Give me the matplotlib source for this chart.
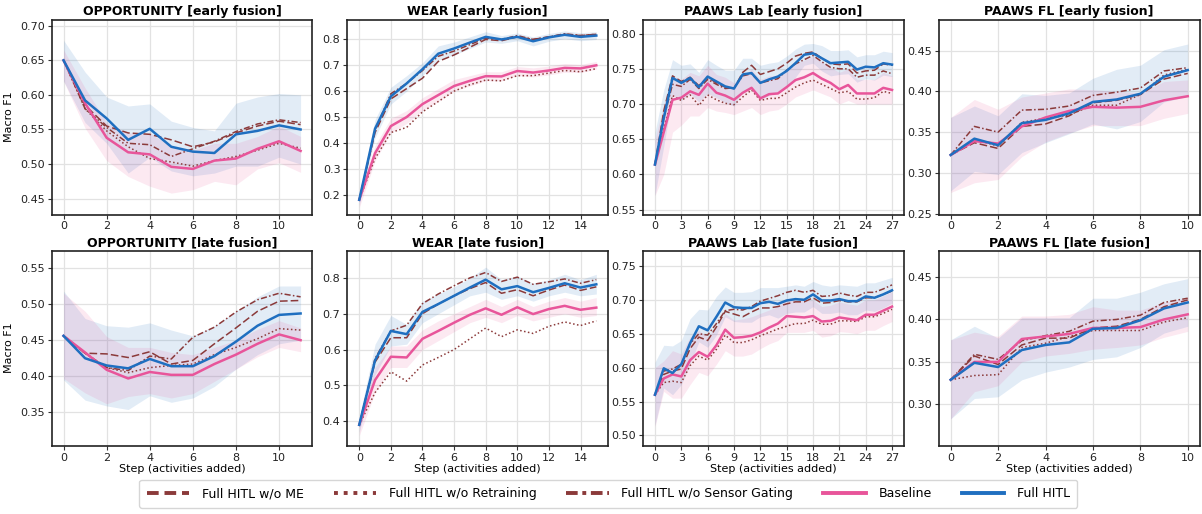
import matplotlib
matplotlib.use("Agg")
import matplotlib.pyplot as plt
from matplotlib.lines import Line2D
import numpy as np

# ---------------- data ----------------
titles = ["OPPORTUNITY [early fusion]", "WEAR [early fusion]", "PAAWS Lab [early fusion]", "PAAWS FL [early fusion]",
          "OPPORTUNITY [late fusion]", "WEAR [late fusion]", "PAAWS Lab [late fusion]", "PAAWS FL [late fusion]"]
legend_labels = ["Full HITL w/o ME", "Full HITL w/o Retraining", "Full HITL w/o Sensor Gating", "Baseline", "Full HITL"]

# OPPORTUNITY early
opp_e_hitl = [0.650, 0.592, 0.566, 0.535, 0.551, 0.525, 0.518, 0.516, 0.543, 0.548, 0.556, 0.550]
opp_e_hitl_hi = [0.679, 0.633, 0.597, 0.584, 0.587, 0.562, 0.553, 0.548, 0.588, 0.597, 0.602, 0.600]
opp_e_hitl_lo = [0.620, 0.560, 0.530, 0.487, 0.510, 0.490, 0.483, 0.487, 0.497, 0.497, 0.510, 0.500]
opp_e_base = [0.650, 0.588, 0.538, 0.517, 0.514, 0.496, 0.493, 0.505, 0.508, 0.522, 0.533, 0.519]
opp_e_base_hi = [0.665, 0.610, 0.560, 0.545, 0.545, 0.525, 0.520, 0.530, 0.530, 0.540, 0.555, 0.540]
opp_e_base_lo = [0.620, 0.552, 0.505, 0.482, 0.468, 0.458, 0.463, 0.475, 0.470, 0.493, 0.502, 0.488]
opp_e_nome = [0.650, 0.585, 0.555, 0.545, 0.543, 0.535, 0.525, 0.532, 0.545, 0.555, 0.562, 0.557]
opp_e_noret = [0.650, 0.580, 0.548, 0.525, 0.508, 0.503, 0.497, 0.505, 0.511, 0.520, 0.530, 0.523]
opp_e_nosg = [0.650, 0.580, 0.553, 0.530, 0.528, 0.511, 0.522, 0.533, 0.547, 0.558, 0.564, 0.560]

# WEAR early
wear_e_hitl = [0.180, 0.455, 0.580, 0.630, 0.685, 0.745, 0.765, 0.788, 0.810, 0.800, 0.810, 0.793, 0.808, 0.818, 0.810, 0.815]
wear_e_hitl_hi = [0.200, 0.490, 0.615, 0.660, 0.710, 0.775, 0.790, 0.810, 0.830, 0.815, 0.825, 0.810, 0.823, 0.833, 0.826, 0.830]
wear_e_hitl_lo = [0.160, 0.420, 0.550, 0.600, 0.660, 0.720, 0.740, 0.765, 0.790, 0.785, 0.795, 0.775, 0.793, 0.803, 0.795, 0.800]
wear_e_base = [0.180, 0.360, 0.465, 0.500, 0.550, 0.585, 0.620, 0.640, 0.658, 0.657, 0.678, 0.672, 0.680, 0.690, 0.688, 0.700]
wear_e_base_hi = [0.200, 0.390, 0.495, 0.525, 0.575, 0.610, 0.645, 0.660, 0.675, 0.675, 0.695, 0.690, 0.697, 0.707, 0.703, 0.715]
wear_e_base_lo = [0.150, 0.330, 0.440, 0.475, 0.525, 0.560, 0.600, 0.620, 0.640, 0.640, 0.660, 0.655, 0.663, 0.673, 0.672, 0.685]
wear_e_nome = [0.180, 0.440, 0.570, 0.610, 0.650, 0.715, 0.740, 0.770, 0.800, 0.795, 0.810, 0.800, 0.810, 0.820, 0.815, 0.820]
wear_e_noret = [0.180, 0.340, 0.440, 0.460, 0.520, 0.560, 0.600, 0.625, 0.643, 0.640, 0.660, 0.660, 0.670, 0.680, 0.675, 0.687]
wear_e_nosg = [0.180, 0.450, 0.590, 0.630, 0.680, 0.735, 0.755, 0.780, 0.805, 0.800, 0.815, 0.800, 0.810, 0.822, 0.815, 0.820]

# PAAWS Lab early
lab_e_hitl = [0.614, 0.680, 0.737, 0.730, 0.737, 0.724, 0.739, 0.732, 0.725, 0.722, 0.742, 0.744, 0.730, 0.735,
              0.739, 0.747, 0.758, 0.770, 0.772, 0.765, 0.758, 0.759, 0.760, 0.749, 0.753, 0.752, 0.758, 0.756]
lab_e_hitl_hi = [0.660, 0.720, 0.763, 0.755, 0.757, 0.745, 0.763, 0.755, 0.748, 0.748, 0.765, 0.765, 0.755, 0.758,
                 0.760, 0.768, 0.778, 0.785, 0.786, 0.783, 0.776, 0.776, 0.777, 0.767, 0.770, 0.770, 0.775, 0.773]
lab_e_hitl_lo = [0.570, 0.640, 0.712, 0.705, 0.715, 0.703, 0.715, 0.709, 0.702, 0.697, 0.718, 0.722, 0.706, 0.712,
                 0.718, 0.726, 0.738, 0.755, 0.758, 0.747, 0.740, 0.742, 0.743, 0.731, 0.736, 0.734, 0.741, 0.739]
lab_e_base = [0.614, 0.660, 0.706, 0.709, 0.718, 0.713, 0.729, 0.716, 0.712, 0.706, 0.716, 0.723, 0.708, 0.714,
              0.715, 0.724, 0.734, 0.738, 0.744, 0.736, 0.730, 0.721, 0.727, 0.715, 0.715, 0.715, 0.723, 0.720]
lab_e_base_hi = [0.650, 0.700, 0.740, 0.735, 0.745, 0.740, 0.755, 0.742, 0.738, 0.730, 0.740, 0.750, 0.735, 0.740,
                 0.740, 0.748, 0.758, 0.762, 0.768, 0.760, 0.752, 0.745, 0.750, 0.735, 0.735, 0.735, 0.745, 0.740]
lab_e_base_lo = [0.570, 0.600, 0.660, 0.670, 0.683, 0.683, 0.695, 0.690, 0.688, 0.685, 0.690, 0.695, 0.685, 0.690,
                 0.692, 0.700, 0.710, 0.715, 0.720, 0.715, 0.710, 0.700, 0.705, 0.700, 0.700, 0.700, 0.700, 0.700]
lab_e_nome = [0.614, 0.690, 0.740, 0.732, 0.738, 0.726, 0.738, 0.730, 0.724, 0.722, 0.745, 0.755, 0.742, 0.746,
              0.750, 0.758, 0.768, 0.772, 0.774, 0.765, 0.757, 0.756, 0.757, 0.744, 0.747, 0.748, 0.757, 0.755]
lab_e_noret = [0.614, 0.665, 0.712, 0.705, 0.713, 0.698, 0.713, 0.706, 0.701, 0.699, 0.710, 0.720, 0.705, 0.708,
               0.708, 0.716, 0.724, 0.730, 0.734, 0.728, 0.722, 0.716, 0.718, 0.707, 0.707, 0.709, 0.718, 0.715]
lab_e_nosg = [0.614, 0.680, 0.728, 0.725, 0.735, 0.722, 0.735, 0.728, 0.722, 0.723, 0.740, 0.743, 0.730, 0.733,
              0.736, 0.748, 0.757, 0.763, 0.769, 0.760, 0.752, 0.750, 0.750, 0.738, 0.741, 0.741, 0.747, 0.743]

# PAAWS FL early
fl_e_hitl = [0.322, 0.342, 0.334, 0.361, 0.365, 0.373, 0.387, 0.390, 0.397, 0.418, 0.426]
fl_e_hitl_hi = [0.368, 0.382, 0.370, 0.397, 0.395, 0.398, 0.416, 0.427, 0.432, 0.451, 0.458]
fl_e_hitl_lo = [0.278, 0.302, 0.298, 0.325, 0.337, 0.348, 0.360, 0.354, 0.363, 0.387, 0.394]
fl_e_base = [0.322, 0.339, 0.336, 0.357, 0.368, 0.376, 0.381, 0.380, 0.381, 0.389, 0.394]
fl_e_base_hi = [0.368, 0.390, 0.378, 0.393, 0.398, 0.403, 0.402, 0.400, 0.398, 0.412, 0.414]
fl_e_base_lo = [0.276, 0.288, 0.292, 0.320, 0.338, 0.349, 0.358, 0.358, 0.358, 0.367, 0.373]
fl_e_nome = [0.322, 0.337, 0.330, 0.357, 0.360, 0.370, 0.386, 0.389, 0.396, 0.415, 0.422]
fl_e_noret = [0.322, 0.341, 0.333, 0.362, 0.367, 0.371, 0.383, 0.383, 0.396, 0.420, 0.427]
fl_e_nosg = [0.322, 0.357, 0.350, 0.377, 0.378, 0.382, 0.395, 0.399, 0.404, 0.425, 0.429]

# OPPORTUNITY late
opp_l_hitl = [0.456, 0.425, 0.415, 0.411, 0.424, 0.414, 0.414, 0.428, 0.448, 0.470, 0.485, 0.487]
opp_l_hitl_hi = [0.518, 0.480, 0.470, 0.468, 0.474, 0.464, 0.456, 0.470, 0.490, 0.510, 0.525, 0.525]
opp_l_hitl_lo = [0.395, 0.367, 0.359, 0.354, 0.373, 0.364, 0.370, 0.386, 0.410, 0.430, 0.445, 0.450]
opp_l_base = [0.456, 0.433, 0.409, 0.397, 0.406, 0.402, 0.402, 0.417, 0.430, 0.445, 0.458, 0.450]
opp_l_base_hi = [0.515, 0.490, 0.455, 0.440, 0.440, 0.433, 0.430, 0.440, 0.450, 0.465, 0.477, 0.467]
opp_l_base_lo = [0.397, 0.377, 0.362, 0.372, 0.376, 0.370, 0.376, 0.393, 0.410, 0.427, 0.440, 0.434]
opp_l_nome = [0.456, 0.432, 0.431, 0.426, 0.434, 0.417, 0.422, 0.445, 0.467, 0.490, 0.504, 0.505]
opp_l_noret = [0.456, 0.432, 0.412, 0.405, 0.412, 0.415, 0.417, 0.430, 0.440, 0.452, 0.466, 0.464]
opp_l_nosg = [0.456, 0.432, 0.412, 0.408, 0.428, 0.424, 0.454, 0.468, 0.489, 0.506, 0.515, 0.510]

# WEAR late
wear_l_hitl = [0.390, 0.570, 0.652, 0.643, 0.705, 0.727, 0.750, 0.773, 0.795, 0.768, 0.777, 0.760, 0.772, 0.785, 0.773, 0.782]
wear_l_hitl_hi = [0.410, 0.615, 0.695, 0.670, 0.735, 0.755, 0.775, 0.800, 0.830, 0.795, 0.805, 0.785, 0.795, 0.810, 0.795, 0.810]
wear_l_hitl_lo = [0.370, 0.530, 0.610, 0.615, 0.675, 0.700, 0.725, 0.750, 0.760, 0.740, 0.750, 0.735, 0.750, 0.760, 0.750, 0.755]
wear_l_base = [0.390, 0.515, 0.580, 0.578, 0.630, 0.652, 0.675, 0.697, 0.715, 0.697, 0.718, 0.699, 0.713, 0.722, 0.711, 0.717]
wear_l_base_hi = [0.410, 0.550, 0.610, 0.610, 0.655, 0.680, 0.700, 0.720, 0.740, 0.720, 0.740, 0.720, 0.735, 0.745, 0.735, 0.745]
wear_l_base_lo = [0.360, 0.480, 0.550, 0.550, 0.600, 0.625, 0.650, 0.675, 0.690, 0.675, 0.695, 0.680, 0.690, 0.700, 0.690, 0.695]
wear_l_nome = [0.390, 0.565, 0.633, 0.633, 0.700, 0.727, 0.750, 0.770, 0.787, 0.757, 0.767, 0.750, 0.766, 0.780, 0.765, 0.775]
wear_l_noret = [0.390, 0.480, 0.538, 0.512, 0.557, 0.578, 0.600, 0.630, 0.660, 0.636, 0.655, 0.645, 0.665, 0.677, 0.667, 0.680]
wear_l_nosg = [0.390, 0.575, 0.652, 0.668, 0.728, 0.755, 0.778, 0.800, 0.815, 0.790, 0.802, 0.782, 0.789, 0.797, 0.785, 0.795]

# PAAWS Lab late
lab_l_hitl = [0.560, 0.599, 0.592, 0.605, 0.636, 0.661, 0.655, 0.675, 0.696, 0.689, 0.688, 0.688, 0.695, 0.697,
              0.694, 0.699, 0.701, 0.700, 0.708, 0.699, 0.699, 0.701, 0.698, 0.698, 0.705, 0.703, 0.708, 0.714]
lab_l_hitl_hi = [0.608, 0.633, 0.632, 0.640, 0.672, 0.686, 0.685, 0.705, 0.719, 0.711, 0.711, 0.712, 0.718, 0.718,
                 0.718, 0.720, 0.722, 0.720, 0.727, 0.722, 0.720, 0.722, 0.721, 0.720, 0.725, 0.725, 0.729, 0.733]
lab_l_hitl_lo = [0.515, 0.570, 0.560, 0.575, 0.605, 0.638, 0.630, 0.648, 0.675, 0.668, 0.667, 0.667, 0.675, 0.678,
                 0.673, 0.680, 0.682, 0.682, 0.690, 0.680, 0.680, 0.682, 0.678, 0.678, 0.685, 0.683, 0.688, 0.695]
lab_l_base = [0.560, 0.584, 0.590, 0.587, 0.611, 0.623, 0.616, 0.633, 0.656, 0.644, 0.645, 0.647, 0.652, 0.659,
              0.665, 0.676, 0.675, 0.674, 0.676, 0.668, 0.669, 0.674, 0.672, 0.670, 0.678, 0.678, 0.684, 0.690]
lab_l_base_hi = [0.600, 0.610, 0.625, 0.620, 0.645, 0.655, 0.645, 0.660, 0.680, 0.670, 0.672, 0.675, 0.680, 0.685,
                 0.690, 0.700, 0.700, 0.698, 0.700, 0.690, 0.692, 0.697, 0.694, 0.692, 0.700, 0.700, 0.706, 0.712]
lab_l_base_lo = [0.513, 0.565, 0.555, 0.555, 0.575, 0.593, 0.588, 0.605, 0.625, 0.617, 0.617, 0.620, 0.628, 0.635,
                 0.640, 0.652, 0.652, 0.652, 0.655, 0.645, 0.647, 0.653, 0.652, 0.650, 0.655, 0.655, 0.662, 0.668]
lab_l_nome = [0.560, 0.590, 0.595, 0.598, 0.628, 0.645, 0.640, 0.660, 0.683, 0.679, 0.675, 0.682, 0.688, 0.688,
              0.690, 0.694, 0.697, 0.697, 0.703, 0.695, 0.696, 0.699, 0.697, 0.697, 0.703, 0.703, 0.708, 0.713]
lab_l_noret = [0.560, 0.578, 0.580, 0.578, 0.603, 0.617, 0.611, 0.627, 0.648, 0.637, 0.637, 0.641, 0.647, 0.652,
               0.657, 0.661, 0.665, 0.665, 0.670, 0.664, 0.664, 0.669, 0.669, 0.668, 0.675, 0.675, 0.680, 0.686]
lab_l_nosg = [0.560, 0.595, 0.598, 0.605, 0.635, 0.650, 0.648, 0.665, 0.684, 0.686, 0.685, 0.690, 0.698, 0.702,
              0.706, 0.711, 0.714, 0.711, 0.714, 0.705, 0.706, 0.710, 0.707, 0.705, 0.711, 0.711, 0.716, 0.722]

# PAAWS FL late
fl_l_hitl = [0.329, 0.349, 0.344, 0.364, 0.370, 0.373, 0.389, 0.390, 0.399, 0.413, 0.420]
fl_l_hitl_hi = [0.376, 0.392, 0.378, 0.402, 0.402, 0.402, 0.425, 0.425, 0.432, 0.442, 0.448]
fl_l_hitl_lo = [0.283, 0.307, 0.309, 0.329, 0.338, 0.344, 0.353, 0.356, 0.367, 0.384, 0.392]
fl_l_base = [0.329, 0.350, 0.350, 0.377, 0.380, 0.383, 0.390, 0.390, 0.391, 0.400, 0.406]
fl_l_base_hi = [0.376, 0.385, 0.380, 0.404, 0.404, 0.406, 0.415, 0.411, 0.411, 0.420, 0.426]
fl_l_base_lo = [0.283, 0.315, 0.322, 0.350, 0.357, 0.360, 0.365, 0.367, 0.370, 0.379, 0.386]
fl_l_nome = [0.329, 0.357, 0.347, 0.370, 0.378, 0.378, 0.390, 0.392, 0.400, 0.415, 0.423]
fl_l_noret = [0.329, 0.334, 0.335, 0.367, 0.372, 0.380, 0.387, 0.387, 0.387, 0.397, 0.402]
fl_l_nosg = [0.329, 0.359, 0.353, 0.375, 0.381, 0.386, 0.398, 0.400, 0.405, 0.420, 0.425]

ylims = [(0.427, 0.709), (0.123, 0.877), (0.543, 0.820), (0.249, 0.488),
         (0.304, 0.574), (0.332, 0.876), (0.485, 0.7725), (0.2515, 0.481)]
yticks = [[0.45, 0.50, 0.55, 0.60, 0.65, 0.70], [0.2, 0.3, 0.4, 0.5, 0.6, 0.7, 0.8],
          [0.55, 0.60, 0.65, 0.70, 0.75, 0.80], [0.25, 0.30, 0.35, 0.40, 0.45],
          [0.35, 0.40, 0.45, 0.50, 0.55], [0.4, 0.5, 0.6, 0.7, 0.8],
          [0.50, 0.55, 0.60, 0.65, 0.70, 0.75], [0.30, 0.35, 0.40, 0.45]]
yfmt = ["%.2f", "%.1f", "%.2f", "%.2f", "%.2f", "%.1f", "%.2f", "%.2f"]
xticks = [list(range(0, 12, 2)), list(range(0, 16, 2)), list(range(0, 28, 3)), list(range(0, 11, 2))] * 2

panels = [
    (opp_e_hitl, opp_e_hitl_lo, opp_e_hitl_hi, opp_e_base, opp_e_base_lo, opp_e_base_hi, opp_e_nome, opp_e_noret, opp_e_nosg),
    (wear_e_hitl, wear_e_hitl_lo, wear_e_hitl_hi, wear_e_base, wear_e_base_lo, wear_e_base_hi, wear_e_nome, wear_e_noret, wear_e_nosg),
    (lab_e_hitl, lab_e_hitl_lo, lab_e_hitl_hi, lab_e_base, lab_e_base_lo, lab_e_base_hi, lab_e_nome, lab_e_noret, lab_e_nosg),
    (fl_e_hitl, fl_e_hitl_lo, fl_e_hitl_hi, fl_e_base, fl_e_base_lo, fl_e_base_hi, fl_e_nome, fl_e_noret, fl_e_nosg),
    (opp_l_hitl, opp_l_hitl_lo, opp_l_hitl_hi, opp_l_base, opp_l_base_lo, opp_l_base_hi, opp_l_nome, opp_l_noret, opp_l_nosg),
    (wear_l_hitl, wear_l_hitl_lo, wear_l_hitl_hi, wear_l_base, wear_l_base_lo, wear_l_base_hi, wear_l_nome, wear_l_noret, wear_l_nosg),
    (lab_l_hitl, lab_l_hitl_lo, lab_l_hitl_hi, lab_l_base, lab_l_base_lo, lab_l_base_hi, lab_l_nome, lab_l_noret, lab_l_nosg),
    (fl_l_hitl, fl_l_hitl_lo, fl_l_hitl_hi, fl_l_base, fl_l_base_lo, fl_l_base_hi, fl_l_nome, fl_l_noret, fl_l_nosg),
]

# ---------------- style ----------------
BLUE = "#1f6fc0"
PINK = "#e8559a"
ABL = "#8b3a3a"
plt.rcParams['font.family'] = ['DejaVu Sans']

fig, axes = plt.subplots(2, 4, figsize=(12.02, 5.14), dpi=100)
fig.subplots_adjust(left=0.043, right=0.998, top=0.962, bottom=0.133, wspace=0.134, hspace=0.185)

for i, ax in enumerate(axes.flat):
    hitl, hlo, hhi, base, blo, bhi, nome, noret, nosg = panels[i]
    x = np.arange(len(hitl))
    ax.fill_between(x, hlo, hhi, color=BLUE, alpha=0.13, linewidth=0)
    ax.fill_between(x, blo, bhi, color=PINK, alpha=0.13, linewidth=0)
    ax.plot(x, nome, color=ABL, lw=1.1, ls=(0, (5, 2)))
    ax.plot(x, noret, color=ABL, lw=1.1, ls=(0, (1, 1.6)))
    ax.plot(x, nosg, color=ABL, lw=1.1, ls=(0, (4, 1.5, 1, 1.5)))
    ax.plot(x, base, color=PINK, lw=1.8)
    ax.plot(x, hitl, color=BLUE, lw=1.8)
    ax.set_title(titles[i], fontsize=9, fontweight='bold', pad=3)
    ax.set_ylim(*ylims[i])
    ax.set_yticks(yticks[i])
    ax.set_yticklabels([yfmt[i] % v for v in yticks[i]])
    ax.set_xticks(xticks[i])
    ax.margins(x=0.05)
    ax.grid(True, color="#e2e2e2", lw=0.9)
    ax.set_axisbelow(True)
    ax.tick_params(labelsize=8, length=3, color="#333333", labelcolor="#222222", pad=2)
    for s in ax.spines.values():
        s.set_color("#222222")
        s.set_linewidth(1.2)
    if i % 4 == 0:
        ax.set_ylabel("Macro F1", fontsize=8, labelpad=4)
    if i >= 4:
        ax.set_xlabel("Step (activities added)", fontsize=8, labelpad=1)

handles = [Line2D([], [], color=ABL, lw=2.8, ls=(0, (3, 1.5))),
           Line2D([], [], color=ABL, lw=2.8, ls=(0, (1, 1.5))),
           Line2D([], [], color=ABL, lw=2.8, ls=(0, (3, 1.2, 1, 1.2))),
           Line2D([], [], color=PINK, lw=2.8),
           Line2D([], [], color=BLUE, lw=2.8)]
fig.legend(handles, legend_labels, loc='center', bbox_to_anchor=(0.506, 0.039), ncol=5,
           fontsize=9, handlelength=3.4, columnspacing=2.4, handletextpad=1.0,
           frameon=True, edgecolor="#cccccc", fancybox=True, borderpad=0.6)

fig.savefig("out.png", dpi=100)
